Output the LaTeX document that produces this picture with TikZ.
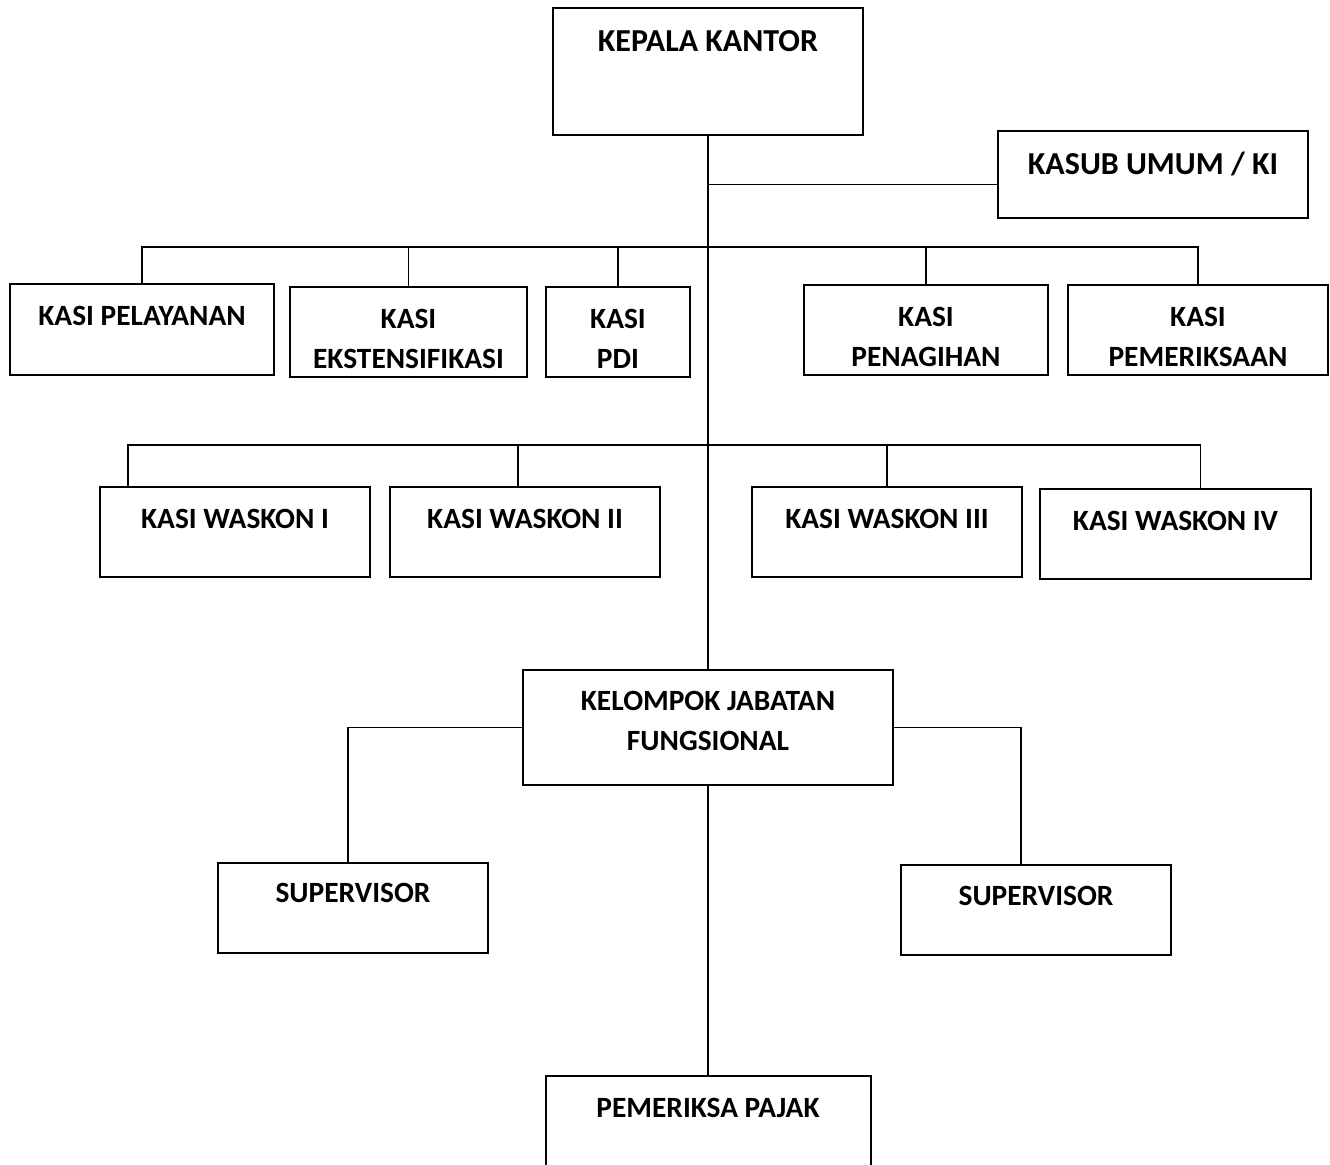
\documentclass[tikz,border=0pt]{standalone}
\usepackage{fontspec}
\setmainfont{Carlito}
\usetikzlibrary{positioning}

\begin{document}
\begin{tikzpicture}[x=0.5pt, y=-0.5pt,
    box/.style={draw, line width=1pt, inner sep=0pt},
    lbl/.style={font=\bfseries\fontsize{14.7}{20}\selectfont, align=center, inner sep=0pt},
    biglbl/.style={lbl, font=\bfseries\fontsize{16}{20}\selectfont},
    line/.style={line width=0.9pt}]
  \useasboundingbox (0,0) rectangle (1330,1165);

  % kepala kantor dan kasub umum
  \node[box, minimum width=155pt, minimum height=63.5pt] (kk) at (708,71.5) {};
  \node[box, minimum width=155pt, minimum height=43.5pt] (ku) at (1153,174.5) {};
  \node[biglbl, below=22.5pt of kk.north, anchor=base] (kkt) {KEPALA KANTOR};
  \node[biglbl, below=22.5pt of ku.north, anchor=base] (kut) {KASUB UMUM / KI};

  % kasi baris pertama
  \node[box, minimum width=132pt, minimum height=45.5pt] (p1) at (142,329.5) {};
  \node[box, minimum width=118.5pt, minimum height=45pt] (p2) at (408.5,332) {};
  \node[box, minimum width=72pt, minimum height=45pt] (p3) at (618,332) {};
  \node[box, minimum width=122pt, minimum height=45pt] (p4) at (926,330) {};
  \node[box, minimum width=130pt, minimum height=45pt] (p5) at (1198,330) {};
  \node[lbl, below=21.5pt of p1.north, anchor=base] (p1t) {KASI PELAYANAN};
  \node[lbl, below=41.5pt of p2.north, anchor=base] (p2t) {KASI\\EKSTENSIFIKASI};
  \node[lbl, below=41.5pt of p3.north, anchor=base] (p3t) {KASI\\PDI};
  \node[lbl, below=41.5pt of p4.north, anchor=base] (p4t) {KASI\\PENAGIHAN};
  \node[lbl, below=41.5pt of p5.north, anchor=base] (p5t) {KASI\\PEMERIKSAAN};

  % kasi waskon
  \node[box, minimum width=135pt, minimum height=45pt] (w1) at (235,532) {};
  \node[box, minimum width=135pt, minimum height=45pt] (w2) at (525,532) {};
  \node[box, minimum width=135pt, minimum height=45pt] (w3) at (887,532) {};
  \node[box, minimum width=135.5pt, minimum height=45pt] (w4) at (1175.5,534) {};
  \node[lbl, below=21.5pt of w1.north, anchor=base] (w1t) {KASI WASKON I};
  \node[lbl, below=21.5pt of w2.north, anchor=base] (w2t) {KASI WASKON II};
  \node[lbl, below=21.5pt of w3.north, anchor=base] (w3t) {KASI WASKON III};
  \node[lbl, below=21.5pt of w4.north, anchor=base] (w4t) {KASI WASKON IV};

  % fungsional
  \node[box, minimum width=185pt, minimum height=57.5pt] (kjf) at (708,727.5) {};
  \node[box, minimum width=135pt, minimum height=45pt] (sv1) at (353,908) {};
  \node[box, minimum width=135pt, minimum height=45pt] (sv2) at (1036,910) {};
  \node[box, minimum width=162.5pt, minimum height=62pt] (pp) at (708,1138) {};
  \node[lbl, below=41pt of kjf.north, anchor=base] (kjft) {KELOMPOK JABATAN\\FUNGSIONAL};
  \node[lbl, below=20.5pt of sv1.north, anchor=base] (sv1t) {SUPERVISOR};
  \node[lbl, below=21pt of sv2.north, anchor=base] (sv2t) {SUPERVISOR};
  \node[lbl, below=21.5pt of pp.north, anchor=base] (ppt) {PEMERIKSA PAJAK};

  \coordinate (bus1) at (708,247);
  \coordinate (bus2) at (708,445);

  \draw[line] (kk.south) -- (kjf.north);
  \draw[line] ([yshift=-5pt]ku.west) -| (kk.south);
  \foreach \b in {p1,p2,p3,p4,p5}
    \draw[line] (\b.north) |- (bus1);
  \draw[line] ([xshift=-53.5pt]w1.north) |- (bus2);
  \draw[line] ([xshift=-3.5pt]w2.north) |- (bus2);
  \draw[line] (w3.north) |- (bus2);
  \draw[line] ([xshift=12.5pt]w4.north) |- (bus2);
  \draw[line] (kjf.west) -| ([xshift=-2.5pt]sv1.north);
  \draw[line] (kjf.east) -| ([xshift=-7.5pt]sv2.north);
  \draw[line] (kjf.south) -- (pp.north);
\end{tikzpicture}
\end{document}
